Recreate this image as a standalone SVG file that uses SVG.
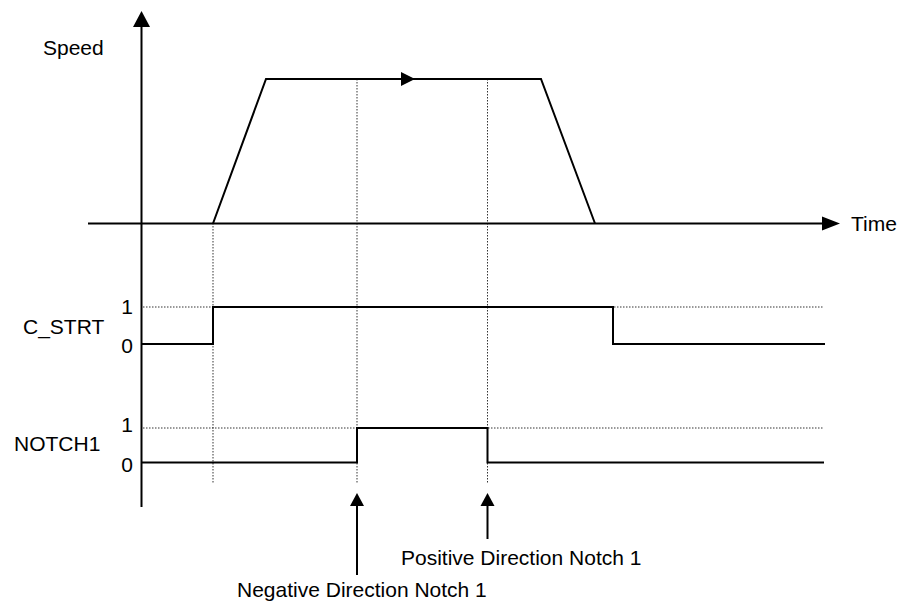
<svg xmlns="http://www.w3.org/2000/svg" width="908" height="601" viewBox="0 0 908 601">
<style>
.solid{fill:none;stroke:#000;stroke-width:2;stroke-linejoin:miter}
.dot{fill:none;stroke:#000;stroke-width:1;stroke-dasharray:1.5,1.5;opacity:0.8}
.head{fill:#000}
text{font-family:"Liberation Sans",Arial,sans-serif;font-size:21px;fill:#000}
</style>
<rect width="908" height="601" fill="#fff"/>
<g id="guides">
<line class="dot" x1="213" y1="223" x2="213" y2="484"/>
<line class="dot" x1="357" y1="79" x2="357" y2="484"/>
<line class="dot" x1="487.5" y1="79" x2="487.5" y2="484"/>
<line class="dot" x1="143" y1="307" x2="824" y2="307"/>
<line class="dot" x1="143" y1="428" x2="824" y2="428"/>
</g>
<g id="axes">
<line class="solid" x1="141.5" y1="26" x2="141.5" y2="507"/>
<polygon class="head" points="141.5,11 133,27 150,27"/>
<line class="solid" x1="88" y1="223.5" x2="824" y2="223.5"/>
<polygon class="head" points="840,223.5 822,216.5 822,230.5"/>
<text x="43" y="55">Speed</text>
<text x="851" y="231">Time</text>
</g>
<g id="speed-profile">
<polyline class="solid" points="213,223.5 266,79 541,79 595,223.5"/>
<polygon class="head" points="415,79 401,72 401,86"/>
</g>
<g id="c_strt">
<polyline class="solid" points="142,344 213,344 213,307 613,307 613,344 825,344"/>
<text x="23" y="334">C_STRT</text>
<text x="133" y="314" text-anchor="end">1</text>
<text x="133" y="353" text-anchor="end">0</text>
</g>
<g id="notch1">
<polyline class="solid" points="142,462.5 357,462.5 357,428 487.5,428 487.5,462.5 824,462.5"/>
<text x="14" y="451">NOTCH1</text>
<text x="133" y="432" text-anchor="end">1</text>
<text x="133" y="472" text-anchor="end">0</text>
</g>
<g id="connectors">
<line class="solid" x1="357" y1="504" x2="357" y2="575"/>
<polygon class="head" points="357,493 350,506 364,506"/>
<line class="solid" x1="487.5" y1="504" x2="487.5" y2="539"/>
<polygon class="head" points="487.5,493 480.5,506 494.5,506"/>
</g>
<g id="labels">
<text x="401" y="565">Positive Direction Notch 1</text>
<text x="237" y="597">Negative Direction Notch 1</text>
</g>
</svg>
